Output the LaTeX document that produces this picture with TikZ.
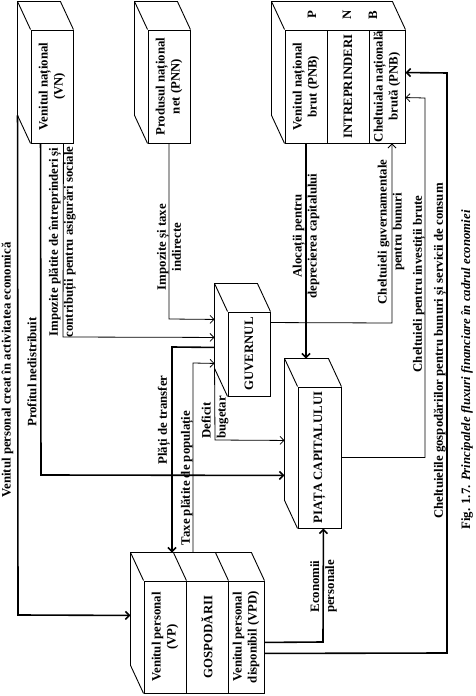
\documentclass[tikz,border=0pt]{standalone}
\usepackage{fontspec}
\setmainfont{Liberation Serif}
\usepackage{tikz}
\usetikzlibrary{arrows.meta,calc}
\tikzset{
  >={Straight Barb[length=4pt,width=8pt]},
  fata/.style={draw,line width=0.9pt,minimum width=113pt,minimum height=42pt,inner sep=0pt,align=center,font=\fontsize{12.8}{15}\selectfont\bfseries},
  et/.style={align=center,inner sep=1pt,font=\fontsize{12.8}{15}\selectfont\bfseries},
  gros/.style={line width=1.6pt},
  every picture/.style={line width=0.8pt},
}
\begin{document}
\begin{tikzpicture}[x=1pt,y=1pt,rotate=90,transform shape]
\useasboundingbox (0,0) rectangle (696,475);
% cutiile
\node[fata] (vn) at (609.5,423){Venitul național\\(VN)};
\node[fata] (pnn) at (609.5,306){Produsul național\\net (PNN)};
\node[fata] (pnb) at (609.5,169){Venitul național\\brut (PNB)};
\node[fata] (intr) at (609.5,127){INTREPRINDERI};
\node[fata,minimum height=36pt] (cnb) at (609.5,88){Cheltuiala națională\\brută (PNB)};
\node[fata,minimum width=84pt] (guv) at (342,226){GUVERNUL};
\node[fata,minimum width=141pt,minimum height=43pt] (piata) at (238.5,155.5){PIAȚA CAPITALULUI};
\node[fata,minimum width=112pt] (vp) at (59,310){Venitul personal\\(VP)};
\node[fata,minimum width=112pt] (gsp) at (59,268){GOSPODĂRII};
\node[fata,minimum width=112pt,minimum height=36pt] (vpd) at (59,229){Venitul personal\\disponibil (VPD)};
\foreach \a/\b in {vn/vn,pnn/pnn,pnb/cnb,guv/guv,piata/piata,vp/vpd}
  \draw[line width=0.9pt] (\a.north west) -- ++(28,13) -- ($(\a.north east)+(28,13)$) -- ($(\b.south east)+(28,13)$) -- (\b.south east) (\a.north east) -- ++(28,13);
\draw[line width=0.9pt] (vp.south east) -- ++(28,13) (gsp.south east) -- ++(28,13);
\node[et] (p) at (681,163){P}; \node[et] (n) at (681,128){N}; \node[et] (b) at (681,102){B};
% fluxurile
\draw[gros,->] ($(vn.north west)+(28,13)$) -- (81,457) -- ($(vp.north west)+(78,13)$);
\draw[gros,->] ($(vn.north west)+(0,-10)$) -- (221,434) -- ($(piata.north west)+(53,13)$);
\draw[->] ($(vn.south west)+(0,10)$) -- (359,412) -- ($(guv.north west)+(59,13)$);
\draw[->] (pnn.west) -- (377,306) -- ($(guv.north west)+(77,13)$);
\draw[gros,->] ($(guv.north west)+(49,13)$) -- (349,303) -- ($(vp.east)+(28,-7)$);
\draw[->] ($(gsp.east)+(28,14)$) -- (333,282) -- ($(guv.north west)+(33,13)$);
\draw[->] ($(guv.north west)+(28,13)$) -- (256,260) -- ($(piata.north west)+(88,13)$);
\draw[gros,->] ($(vpd.south west)+(51,0)$) -- (54,152) -- ($(piata.south west)+(0,18)$);
\draw[gros,->] ($(vpd.south west)+(40,0)$) -- (43,28) -- (623,28) -- ($(cnb.south east)+(-43,0)$);
\draw[->] (piata.south) -- (238.5,50) -- (598,50) -- ($(cnb.south east)+(-68,0)$);
\draw[->] ($(guv.south east)+(-11,0)$) -- (373,83) -- ($(cnb.west)+(0,-5)$);
\draw[gros,->] (pnb.west) -- ($(piata.east)+(28,13.5)$);
% etichete
\node[et] (l1) at (326,467.5){Venitul personal creat în activitatea economică};
\node[et] (l2) at (324,443){Profitul nedistribuit};
\node[et] (l3) at (454,412.5){Impozite plătite de întreprinderi și\\contribuții pentru asigurări sociale};
\node[et] (l4) at (449,306){Impozite și taxe\\indirecte};
\node[et] (l5) at (276,311){Plăți de transfer};
\node[et] (l6) at (218,288){Taxe plătite de populație};
\node[et,align=left,anchor=west] (l7) at (256,260){Deficit\\bugetar};
\node[et] (l8) at (109.5,151.5){Economii\\personale};
\node[et] (l9) at (345,35){Cheltuielile gospodăriilor pentru bunuri și servicii de consum};
\node[et] (l10) at (412,56){Cheltuieli pentru investiții brute};
\node[et] (l11) at (464,84){Cheltuieli guvernamentale\\pentru bunuri};
\node[et] (l12) at (460,169){Alocații pentru\\deprecierea capitalului};
\node[et] (fig) at (326,8){Fig. 1.7. \textit{Principalele fluxuri financiare în cadrul economiei}};
\end{tikzpicture}
\end{document}
